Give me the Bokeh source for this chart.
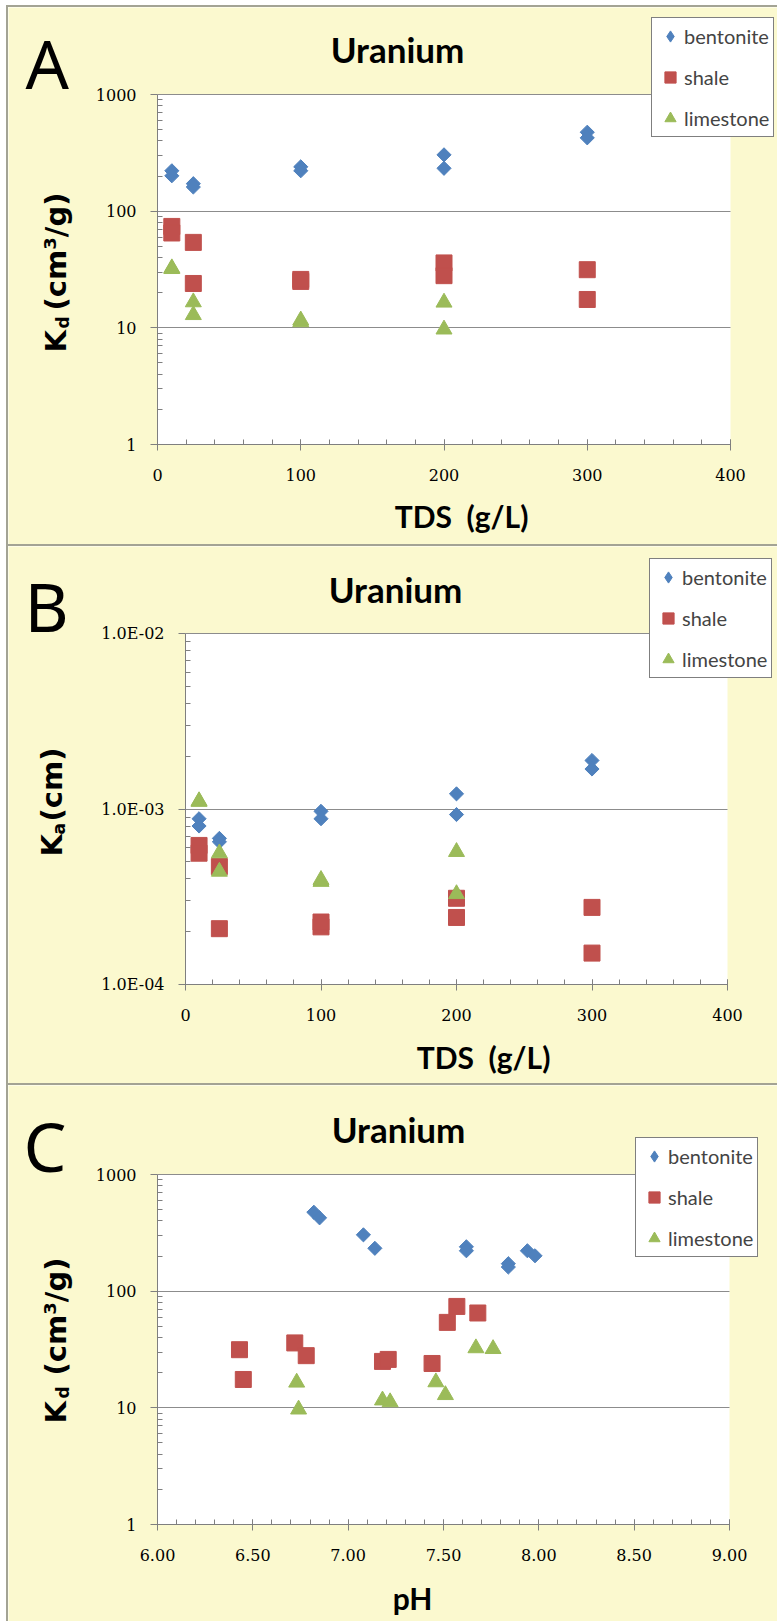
import numpy as np
from bokeh.plotting import figure
from bokeh.models import (Range1d, FixedTicker, Label, Legend, LegendItem, Div,
                          ColumnDataSource, BoxAnnotation)
from bokeh.layouts import column, row
from bokeh.embed import file_html
from bokeh.resources import INLINE

# ---------------- data ----------------
materials = ["bentonite", "shale", "limestone"]

bentonite_tds = [10, 10, 25, 25, 100, 100, 200, 200, 300, 300]
bentonite_ph = [7.94, 7.98, 7.84, 7.84, 7.62, 7.62, 7.08, 7.14, 6.82, 6.85]
bentonite_kd = [222, 201, 172, 161, 240, 222, 304, 233, 475, 425]
bentonite_ka = [8.8e-4, 8.0e-4, 6.8e-4, 6.5e-4, 9.7e-4, 8.8e-4, 1.22e-3, 9.3e-4, 1.89e-3, 1.69e-3]

shale_tds = [10, 10, 25, 25, 100, 100, 200, 200, 300, 300]
shale_ph = [7.57, 7.68, 7.52, 7.44, 7.18, 7.21, 6.72, 6.78, 6.43, 6.45]
shale_kd = [74, 65, 54, 24, 25, 26, 36, 28, 31.5, 17.5]
shale_ka = [6.2e-4, 5.6e-4, 4.7e-4, 2.08e-4, 2.13e-4, 2.27e-4, 3.1e-4, 2.41e-4, 2.75e-4, 1.51e-4]

limestone_tds = [10, 10, 25, 25, 100, 100, 200, 200]
limestone_ph = [7.67, 7.76, 7.46, 7.51, 7.18, 7.22, 6.73, 6.74]
limestone_kd = [32.5, 32, 16.6, 12.9, 11.6, 11.2, 16.5, 9.7]
limestone_ka = [1.11e-3, 1.10e-3, 5.6e-4, 4.4e-4, 3.95e-4, 3.85e-4, 5.7e-4, 3.28e-4]

# axis ticks and their labels
tds_ticks = [0, 100, 200, 300, 400]
tds_labels = ["0", "100", "200", "300", "400"]
ph_ticks = [6.0, 6.5, 7.0, 7.5, 8.0, 8.5, 9.0]
ph_labels = ["6.00", "6.50", "7.00", "7.50", "8.00", "8.50", "9.00"]
kd_ticks = [1, 10, 100, 1000]
kd_labels = ["1", "10", "100", "1000"]
ka_ticks = [1e-4, 1e-3, 1e-2]
ka_labels = ["1.0E-04", "1.0E-03", "1.0E-02"]

# ---------------- styling ----------------
BG = "#FBF9CF"
EDGE = "#A3A394"
AXIS = "#7F7F7F"
GRID = "#8C8C8C"
COLORS = {"bentonite": "#4F81BD", "shale": "#C0504D", "limestone": "#9BBB59"}
W = 769


def log_minor(lo_exp, hi_exp):
    return [k * 10.0 ** e for e in range(lo_exp, hi_exp) for k in range(2, 10)]


class Panel:
    """A figure whose frame fills the whole canvas; the plot area is the
    box (left, top, right, bottom) in canvas pixels, mapped to xlim x ylim."""

    def __init__(self, height, box, xlim, ylim, xticks, xlabels, xminor,
                 yticks, ylabels, yminor):
        self.H = height
        left, top, right, bottom = box
        xs = (xlim[1] - xlim[0]) / (right - left)
        xr = (xlim[0] - left * xs, xlim[1] + (W - right) * xs)
        l0, l1 = np.log10(ylim[0]), np.log10(ylim[1])
        ys = (l1 - l0) / (bottom - top)
        yr = (10 ** (l0 - (height - bottom) * ys), 10 ** (l1 + top * ys))

        p = figure(width=W, height=height, x_range=Range1d(*xr), y_range=Range1d(*yr),
                   y_axis_type="log", output_backend="svg", toolbar_location=None,
                   title=None, min_border=0, border_fill_color=BG,
                   background_fill_color=BG, outline_line_color=None)
        # white plot area
        p.add_layout(BoxAnnotation(left=xlim[0], right=xlim[1], bottom=ylim[0], top=ylim[1],
                                   fill_color="white", fill_alpha=1.0, line_color=None,
                                   level="image"))
        yt = FixedTicker(ticks=yticks, minor_ticks=yminor)
        xt = FixedTicker(ticks=xticks, minor_ticks=xminor)
        p.yaxis.ticker = yt
        p.xaxis.ticker = xt
        p.yaxis.fixed_location = xlim[0]
        p.xaxis.fixed_location = ylim[0]
        p.yaxis.bounds = ylim
        p.xaxis.bounds = xlim
        p.xgrid.visible = False
        p.ygrid.ticker = yt
        p.ygrid.grid_line_color = GRID
        p.ygrid.grid_line_width = 1
        try:
            p.ygrid.bounds = ylim
            p.ygrid.cross_bounds = xlim
        except AttributeError:
            p.ygrid.visible = False
            p.segment(x0=[xlim[0]] * len(yticks[1:]), x1=[xlim[1]] * len(yticks[1:]),
                      y0=yticks[1:], y1=yticks[1:], line_color=GRID, line_width=1)
        p.yaxis.major_label_overrides = {float(t): s for t, s in zip(yticks, ylabels)}
        p.xaxis.major_label_overrides = {float(t): s for t, s in zip(xticks, xlabels)}
        for ax in (p.xaxis, p.yaxis):
            ax.axis_line_color = AXIS
            ax.major_tick_line_color = AXIS
            ax.minor_tick_line_color = AXIS
            ax.major_label_text_font = "DejaVu Serif"
            ax.major_label_text_font_size = "16px"
            ax.major_label_text_color = "#000000"
        p.yaxis.major_tick_in = 0
        p.yaxis.major_tick_out = 7
        p.yaxis.minor_tick_in = 5
        p.yaxis.minor_tick_out = 0
        p.yaxis.major_label_standoff = 14
        p.xaxis.major_tick_in = 5
        p.xaxis.major_tick_out = 6
        p.xaxis.minor_tick_in = 5
        p.xaxis.minor_tick_out = 0
        p.xaxis.major_label_standoff = 18
        self.p = p

    def series(self, xs, ys):
        self.r = {}
        spec = [("bentonite", "square", 10, np.pi / 4),
                ("shale", "square", 16, 0),
                ("limestone", "triangle", 16, 0)]
        for (name, marker, size, ang), x, y in zip(spec, xs, ys):
            src = ColumnDataSource(dict(x=x, y=y))
            self.r[name] = self.p.scatter("x", "y", source=src, marker=marker, size=size,
                                          angle=ang, fill_color=COLORS[name],
                                          line_color=COLORS[name])

    def legend(self, left, bottom):
        p = self.p
        # legend-only diamond (its single point is NaN, so nothing is plotted)
        proxy = p.scatter(x=[np.nan], y=[np.nan], marker="diamond",
                          fill_color=COLORS["bentonite"], line_color=COLORS["bentonite"])
        items = [LegendItem(label="bentonite", renderers=[proxy]),
                 LegendItem(label="shale", renderers=[self.r["shale"]]),
                 LegendItem(label="limestone", renderers=[self.r["limestone"]])]
        leg = Legend(items=items, location=(left, self.H - bottom), padding=4, spacing=13,
                     glyph_width=28, glyph_height=28, label_standoff=-4,
                     label_text_font="Lato", label_text_font_size="20px",
                     border_line_color="black", border_line_width=1,
                     background_fill_color="white", background_fill_alpha=1.0, margin=0)
        p.add_layout(leg)

    def text(self, cx, cy, text, size, font="Lato", style="bold", align="left", angle=0):
        # (cx, cy): canvas pixels from the top-left; cy is the text's vertical middle
        self.p.add_layout(Label(x=cx, y=self.H - cy, x_units="screen", y_units="screen",
                                text=text, text_font=font, text_font_size=f"{size}px",
                                text_font_style=style, text_align=align,
                                text_baseline="middle", angle=angle, text_color="black"))

    def ytitle(self, cx, k_y, sub, sub_y, rest, rest_y, size=29):
        self.text(cx, k_y, "K", size, font="DejaVu Sans", angle=np.pi / 2)
        self.text(cx + 7, sub_y, sub, 17, font="DejaVu Sans", angle=np.pi / 2)
        self.text(cx, rest_y, rest, size, font="DejaVu Sans", angle=np.pi / 2)


tds_minor = list(range(0, 401, 20))
ph_minor = [round(v, 1) for v in np.arange(6.0, 9.001, 0.1)]
TDS_TITLE = "TDS \u00a0(g/L)"

# ---------------- panel A : Kd vs TDS ----------------
A = Panel(537, (149, 87, 722, 437), (0, 400), (1, 1000),
          tds_ticks, tds_labels, tds_minor, kd_ticks, kd_labels, log_minor(0, 3))
A.series([bentonite_tds, shale_tds, limestone_tds], [bentonite_kd, shale_kd, limestone_kd])
A.legend(643, 130)
A.text(17, 55, "A", 68, font="Noto Sans", style="normal")
A.text(389, 41, "Uranium", 35, align="center")
A.text(453, 508, TDS_TITLE, 30, align="center")
A.ytitle(47, 345, "d", 321, "(cm³/g)", 303)

# ---------------- panel B : Ka vs TDS ----------------
B = Panel(537, (177, 87, 719, 438), (0, 400), (1e-4, 1e-2),
          tds_ticks, tds_labels, tds_minor, ka_ticks, ka_labels, log_minor(-4, -2))
B.series([bentonite_tds, shale_tds, limestone_tds], [bentonite_ka, shale_ka, limestone_ka])
B.legend(641, 132)
B.text(16, 59, "B", 68, font="Noto Sans", style="normal")
B.text(387, 42, "Uranium", 35, align="center")
B.text(475, 510, TDS_TITLE, 30, align="center")
B.ytitle(43, 310, "a", 288, "(cm)", 275)

# ---------------- panel C : Kd vs pH ----------------
C = Panel(536, (149, 89, 721, 439), (6, 9), (1, 1000),
          ph_ticks, ph_labels, ph_minor, kd_ticks, kd_labels, log_minor(0, 3))
C.series([bentonite_ph, shale_ph, limestone_ph], [bentonite_kd, shale_kd, limestone_kd])
C.legend(627, 172)
C.text(15, 60, "C", 68, font="Noto Sans", style="normal")
C.text(390, 43, "Uranium", 35, align="center")
C.text(404, 512, "pH", 30, align="center")
C.ytitle(47, 338, "d", 313, "(cm³/g)", 290)

# ---------------- page layout with panel frames ----------------
def bar(w, h, color):
    return Div(width=w, height=h, margin=0, styles={"background-color": color})

stack = column(bar(W, 2, EDGE), A.p, bar(W, 2, EDGE), B.p, bar(W, 2, EDGE), C.p,
               spacing=0, margin=0)
body = row(bar(6, 1616, "white"), bar(2, 1616, EDGE), stack, spacing=0, margin=0)
page = column(bar(777, 5, "white"), body, spacing=0, margin=0)

open("out.html", "w").write(file_html(page, INLINE))
